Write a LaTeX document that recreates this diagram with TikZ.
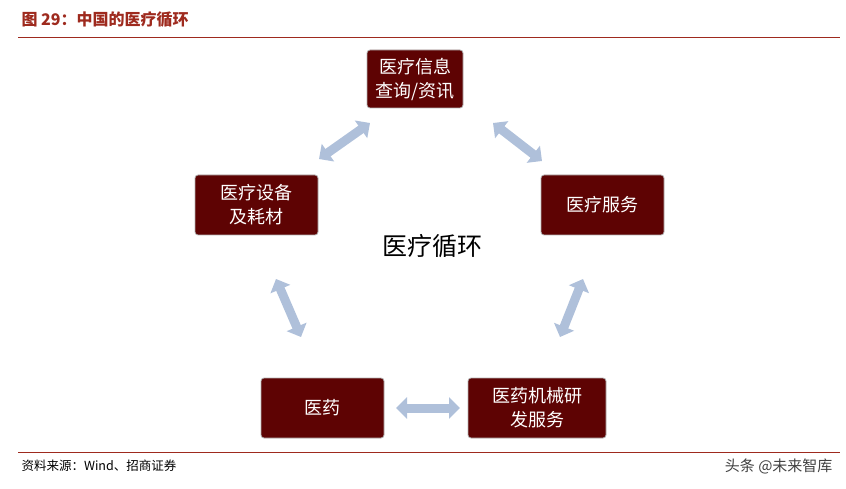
\documentclass[tikz,border=0pt]{standalone}
\usepackage{fontspec}
\newfontfamily\cjk{Noto Sans CJK SC}
\usetikzlibrary{arrows.meta}
\definecolor{boxred}{HTML}{5E0303}
\definecolor{titred}{HTML}{9E2A1E}
\definecolor{arr}{HTML}{AFC0DA}
\begin{document}
\begin{tikzpicture}[x=1pt,y=-1pt,
  box/.style={draw=gray!60,line width=0.8pt,fill=boxred,rounded corners=3pt,text=white,font=\cjk\fontsize{18}{24}\selectfont,align=center,inner sep=0pt},
  dar/.style={arr,line width=9pt,{Triangle[width=21pt,length=11pt]}-{Triangle[width=21pt,length=11pt]}}]
\useasboundingbox (0,0) rectangle (846,489);
\node[anchor=west,text=titred,font=\cjk\bfseries\fontsize{16}{18}\selectfont] (title) at (18,20) {图 29：中国的医疗循环};
\draw[titred,line width=0.8pt] (18,37) coordinate (l1) -- (840,37) coordinate (l2);
\node[box,minimum width=96pt,minimum height=58pt] (b1) at (415,79) {医疗信息\\查询/资讯};
\node[box,minimum width=123pt,minimum height=60pt] (b2) at (256.5,205) {医疗设备\\及耗材};
\node[box,minimum width=123pt,minimum height=60pt] (b3) at (602.5,205) {医疗服务};
\node[box,minimum width=123pt,minimum height=60pt] (b4) at (322.5,408) {医药};
\node[box,minimum width=138pt,minimum height=60pt] (b5) at (537,408) {医药机械研\\发服务};
\node[font=\cjk\fontsize{25}{28}\selectfont] (c) at (432,246) {医疗循环};
\coordinate (a1s) at (319,159); \coordinate (a1e) at (370,123);
\coordinate (a2s) at (493,123); \coordinate (a2e) at (542,161);
\coordinate (a3s) at (583,279); \coordinate (a3e) at (560,337);
\coordinate (a4s) at (276,279); \coordinate (a4e) at (301,337);
\coordinate (a5s) at (396,408); \coordinate (a5e) at (460,408);
\draw[dar] (a1s) -- (a1e);
\draw[dar] (a2s) -- (a2e);
\draw[dar] (a3s) -- (a3e);
\draw[dar] (a4s) -- (a4e);
\draw[dar] (a5s) -- (a5e);
\draw[titred,line width=0.8pt] (18,452) coordinate (l3) -- (840,452) coordinate (l4);
\node[anchor=west,font=\cjk\fontsize{12.5}{14}\selectfont] (src) at (18,466) {资料来源：Wind、招商证券};
\node[anchor=east,font=\cjk\fontsize{15}{18}\selectfont,text=black!75] (wm) at (836,466) {头条 @未来智库};
\end{tikzpicture}
\end{document}
